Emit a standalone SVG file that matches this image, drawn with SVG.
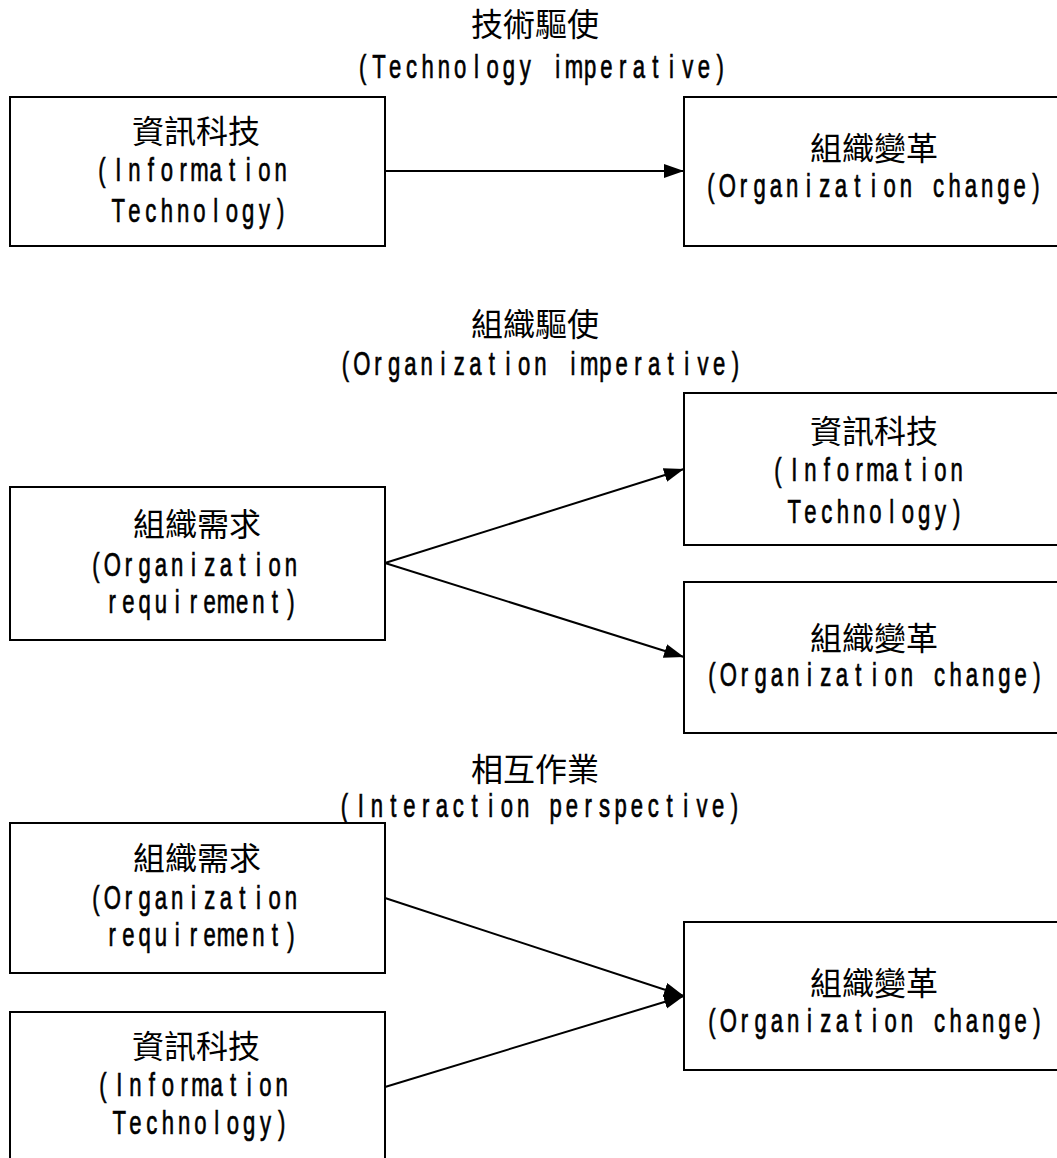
<svg xmlns="http://www.w3.org/2000/svg" width="1057" height="1158" viewBox="0 0 1057 1158">
  <style>
    .box { fill: #fff; stroke: #000; stroke-width: 2; }
    .cjk { font-family: "Noto Sans CJK TC", "Noto Sans CJK SC", sans-serif; font-size: 32px; text-anchor: middle; fill: #000; }
    .lat { font-family: "Liberation Sans", "DejaVu Sans", sans-serif; font-size: 34px; text-anchor: middle; fill: #000; stroke: #000; stroke-width: 0.7; }
    .link { fill: none; stroke: #000; stroke-width: 2; marker-end: url(#arrow); }
  </style>
  <defs>
    <marker id="arrow" markerUnits="userSpaceOnUse" markerWidth="22" markerHeight="16" refX="20" refY="7" orient="auto">
      <path d="M0,0 L20,7 L0,14 z" fill="#000"/>
    </marker>
  </defs>
  <rect width="1057" height="1158" fill="#fff"/>

  <!-- Latin lines are set as narrow half-width cells: each glyph centred on a 25-unit step, squeezed to 0.65 -->

  <!-- Section 1: technology imperative -->
  <g id="title-technology">
    <text class="cjk" x="535" y="36">技術驅使</text>
    <text class="lat" transform="translate(362.75,78) scale(0.65,1)" x="0 25 50 75 100 125 150 175 200 225 250 275 300 325 350 375 400 425 450 475 500 525 550" y="0">(Technology imperative)</text>
  </g>
  <g id="it-1">
    <rect class="box" x="10" y="97" width="375" height="149"/>
    <text class="cjk" x="196" y="143">資訊科技</text>
    <text class="lat" transform="translate(102,181) scale(0.65,1)" x="0 25 50 75 100 125 150 175 200 225 250 275" y="0">(Information</text>
    <text class="lat" transform="translate(118.25,222) scale(0.65,1)" x="0 25 50 75 100 125 150 175 200 225 250" y="0">Technology)</text>
  </g>
  <g id="change-1">
    <rect class="box" x="684" y="97" width="375" height="149"/>
    <text class="cjk" x="874" y="160">組織變革</text>
    <text class="lat" transform="translate(711,197) scale(0.65,1)" x="0 25 50 75 100 125 150 175 200 225 250 275 300 325 350 375 400 425 450 475 500" y="0">(Organization change)</text>
  </g>

  <!-- Section 2: organization imperative -->
  <g id="title-organization">
    <text class="cjk" x="535" y="336">組織驅使</text>
    <text class="lat" transform="translate(345.5,375) scale(0.65,1)" x="0 25 50 75 100 125 150 175 200 225 250 275 300 325 350 375 400 425 450 475 500 525 550 575 600" y="0">(Organization imperative)</text>
  </g>
  <g id="req-2">
    <rect class="box" x="10" y="487" width="375" height="153"/>
    <text class="cjk" x="197" y="536">組織需求</text>
    <text class="lat" transform="translate(96,576) scale(0.65,1)" x="0 25 50 75 100 125 150 175 200 225 250 275 300" y="0">(Organization</text>
    <text class="lat" transform="translate(112.25,613) scale(0.65,1)" x="0 25 50 75 100 125 150 175 200 225 250 275" y="0">requirement)</text>
  </g>
  <g id="it-2">
    <rect class="box" x="684" y="393" width="375" height="152"/>
    <text class="cjk" x="874" y="443">資訊科技</text>
    <text class="lat" transform="translate(778,481) scale(0.65,1)" x="0 25 50 75 100 125 150 175 200 225 250 275" y="0">(Information</text>
    <text class="lat" transform="translate(794.25,523) scale(0.65,1)" x="0 25 50 75 100 125 150 175 200 225 250" y="0">Technology)</text>
  </g>
  <g id="change-2">
    <rect class="box" x="684" y="582" width="375" height="151"/>
    <text class="cjk" x="874" y="650">組織變革</text>
    <text class="lat" transform="translate(712,686) scale(0.65,1)" x="0 25 50 75 100 125 150 175 200 225 250 275 300 325 350 375 400 425 450 475 500" y="0">(Organization change)</text>
  </g>

  <!-- Section 3: interaction perspective -->
  <g id="title-interaction">
    <text class="cjk" x="535" y="781">相互作業</text>
    <text class="lat" transform="translate(344.5,817) scale(0.65,1)" x="0 25 50 75 100 125 150 175 200 225 250 275 300 325 350 375 400 425 450 475 500 525 550 575 600" y="0">(Interaction perspective)</text>
  </g>
  <g id="req-3">
    <rect class="box" x="10" y="823" width="375" height="150"/>
    <text class="cjk" x="197" y="870">組織需求</text>
    <text class="lat" transform="translate(96,909) scale(0.65,1)" x="0 25 50 75 100 125 150 175 200 225 250 275 300" y="0">(Organization</text>
    <text class="lat" transform="translate(112.25,946) scale(0.65,1)" x="0 25 50 75 100 125 150 175 200 225 250 275" y="0">requirement)</text>
  </g>
  <g id="it-3">
    <rect class="box" x="10" y="1012" width="375" height="150"/>
    <text class="cjk" x="196" y="1058">資訊科技</text>
    <text class="lat" transform="translate(103,1096) scale(0.65,1)" x="0 25 50 75 100 125 150 175 200 225 250 275" y="0">(Information</text>
    <text class="lat" transform="translate(119.25,1134) scale(0.65,1)" x="0 25 50 75 100 125 150 175 200 225 250" y="0">Technology)</text>
  </g>
  <g id="change-3">
    <rect class="box" x="684" y="922" width="375" height="148"/>
    <text class="cjk" x="874" y="995">組織變革</text>
    <text class="lat" transform="translate(712,1032) scale(0.65,1)" x="0 25 50 75 100 125 150 175 200 225 250 275 300 325 350 375 400 425 450 475 500" y="0">(Organization change)</text>
  </g>

  <!-- Connectors -->
  <g id="connectors">
    <line class="link" x1="385" y1="171" x2="684" y2="171"/>
    <line class="link" x1="385" y1="563" x2="684" y2="469"/>
    <line class="link" x1="385" y1="563" x2="684" y2="657"/>
    <line class="link" x1="385" y1="898" x2="684" y2="996"/>
    <line class="link" x1="385" y1="1087" x2="684" y2="996"/>
  </g>
</svg>
